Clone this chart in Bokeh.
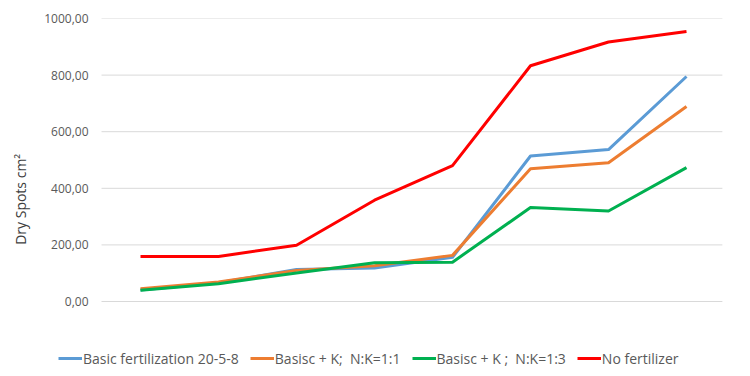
from bokeh.plotting import figure
from bokeh.models import Range1d, Legend, LegendItem, FixedTicker, CustomJSTickFormatter
from bokeh.embed import file_html
from bokeh.resources import INLINE

categories = ["1", "2", "3", "4", "5", "6", "7", "8"]
basic = [41, 66, 113, 118, 156, 514, 537, 795]
basic_k_11 = [45, 69, 110, 126, 163, 469, 490, 689]
basic_k_13 = [40, 63, 101, 137, 139, 332, 320, 473]
no_fert = [159, 159, 199, 358, 480, 833, 917, 954]
y_ticks = [0, 200, 400, 600, 800, 1000]

series = [
    ("Basic fertilization 20-5-8", basic, "#5B9BD5"),
    ("Basisc + K;  N:K=1:1", basic_k_11, "#ED7D31"),
    ("Basisc + K ;  N:K=1:3", basic_k_13, "#00B050"),
    ("No fertilizer", no_fert, "#FF0000"),
]

FONT = "Open Sans"
TXT = "#595959"

# layout: the frame reaches left to where the legend starts and down to the
# bottom of the canvas; the band of categories starts 43 px into the frame
band_px = 78.0
left_pad = 43.0 / band_px
x_lo = -0.5
x_hi = len(categories) - 0.5

p = figure(width=750, height=376, output_backend="svg", toolbar_location=None,
           x_range=Range1d(x_lo - left_pad, x_hi), y_range=Range1d(-265, 1000),
           min_border_left=58, min_border_right=25, min_border_top=18, min_border_bottom=0)
p.outline_line_color = None
p.background_fill_color = "white"
p.border_fill_color = "white"
p.xaxis.visible = False
p.xgrid.grid_line_color = None
p.ygrid.grid_line_color = None

# horizontal gridlines across the category band only
p.segment(x0=[x_lo] * len(y_ticks), x1=[x_hi - 0.04] * len(y_ticks), y0=y_ticks, y1=y_ticks,
          line_color="#D9D9D9", line_width=1, level="underlay")

ya = p.yaxis[0]
ya.ticker = FixedTicker(ticks=y_ticks)
ya.formatter = CustomJSTickFormatter(code="return tick.toFixed(2).replace('.', ',');")
ya.axis_line_color = None
ya.major_tick_line_color = None
ya.minor_tick_line_color = None
ya.major_tick_in = 0
ya.major_tick_out = 0
ya.major_label_standoff = -30
ya.major_label_text_font = FONT
ya.major_label_text_font_size = "12px"
ya.major_label_text_color = TXT
ya.axis_label = "Dry Spots  cm²"
ya.axis_label_standoff = 11
ya.axis_label_text_font = FONT
ya.axis_label_text_font_size = "14px"
ya.axis_label_text_font_style = "normal"
ya.axis_label_text_color = "#404040"

xs = list(range(len(categories)))
items = []
for name, vals, color in series:
    r = p.line(xs, vals, line_color=color, line_width=3, line_join="round")
    items.append(LegendItem(label=name, renderers=[r]))

legend = Legend(items=items, orientation="horizontal", location=(0, 8),
                border_line_color=None, background_fill_alpha=0,
                padding=0, margin=0, spacing=11, label_standoff=1,
                glyph_width=24, glyph_height=20,
                label_text_font=FONT, label_text_font_size="14px", label_text_color=TXT)
p.add_layout(legend, "center")

open("out.html", "w").write(file_html(p, INLINE))
